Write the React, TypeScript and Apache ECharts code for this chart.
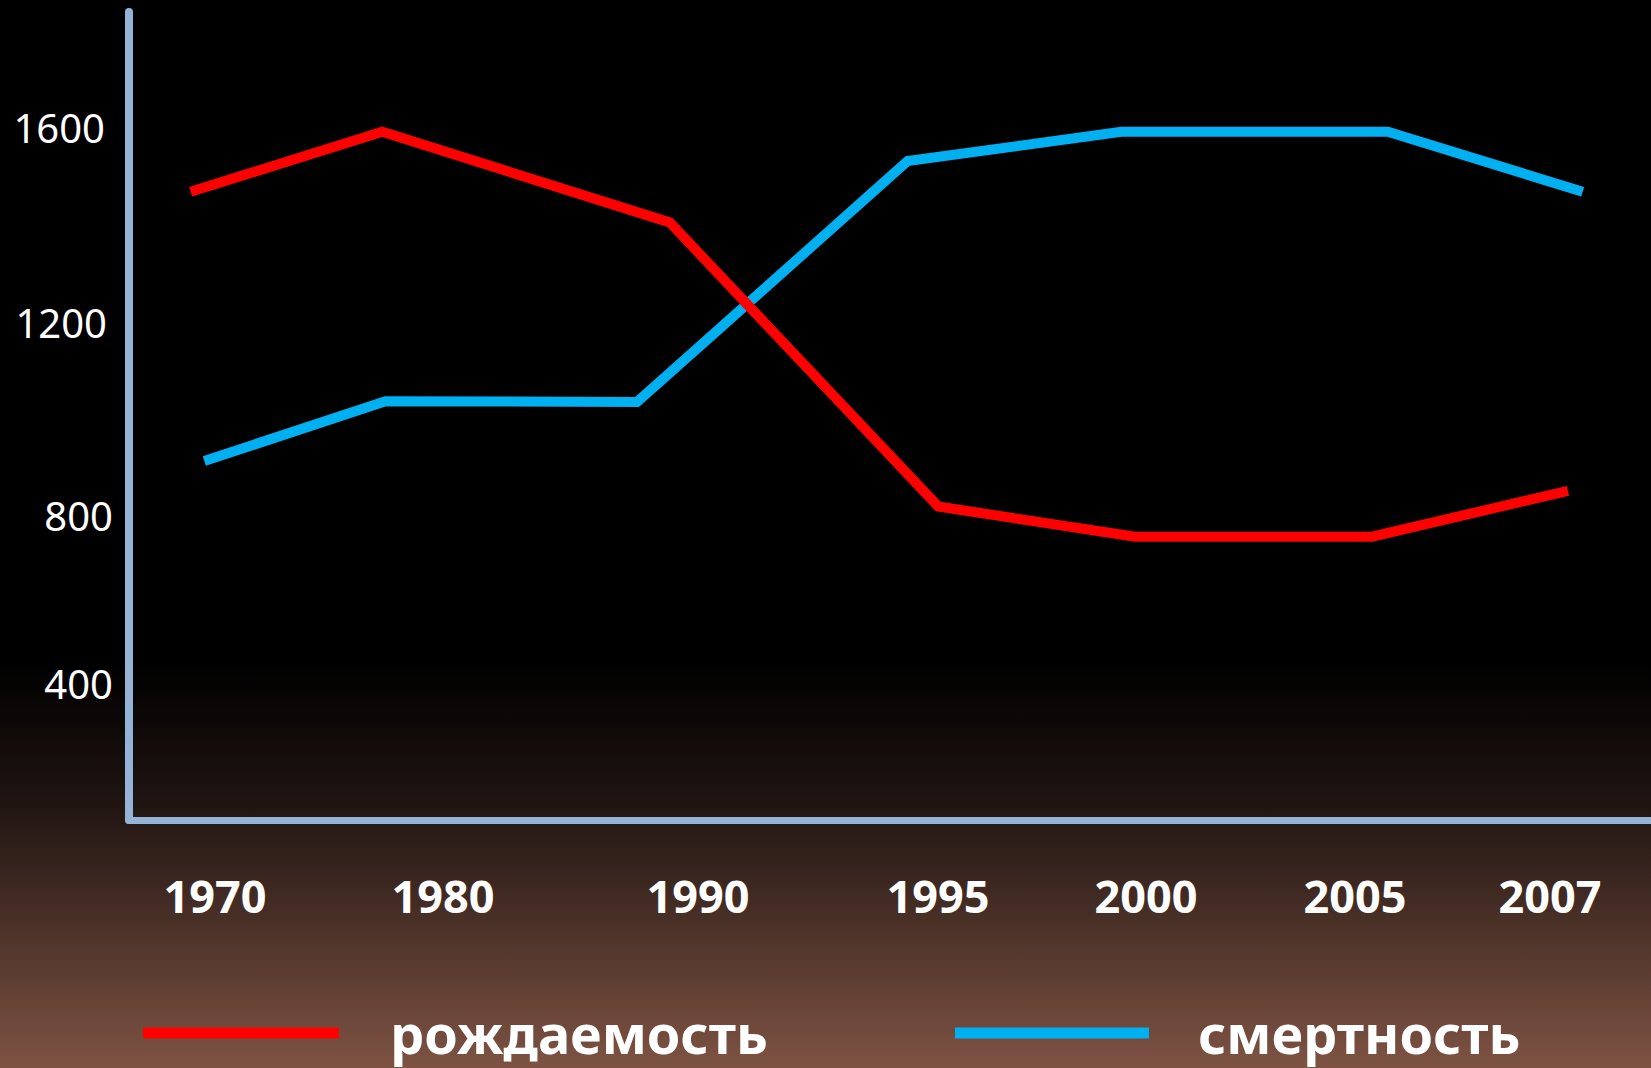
import React, { useEffect, useRef } from "react";
import * as echarts from "echarts";

// Year labels and their positions along the horizontal axis (percent of axis length)
const years = ["1970", "1980", "1990", "1995", "2000", "2005", "2007"];
const yearLabelPos = [5.65, 20.63, 37.39, 53.15, 66.82, 80.55, 93.36];

// Series names
const seriesNames = ["рождаемость", "смертность"];

// Birth rate (red) — positions along axis and values
const birthPos = [4.05, 16.64, 35.53, 53.17, 66.1, 81.67, 94.54];
const birthValues = [1478, 1607, 1412, 800, 735, 735, 834];

// Death rate (blue) — positions along axis and values
const deathPos = [4.95, 16.85, 33.38, 51.16, 65.2, 82.71, 95.51];
const deathValues = [898, 1027, 1025, 1544, 1607, 1607, 1478];

// Y tick labels
const yTicks = [400, 800, 1200, 1600];

const RED = "#ff0000";
const BLUE = "#00b0f0";
const AXIS = "#95b3d7";

export default function App() {
  const ref = useRef<HTMLDivElement>(null);

  useEffect(() => {
    document.body.style.margin = "0";
    if (!ref.current) return;
    const chart = echarts.init(ref.current, null, { renderer: "svg" });

    const birthData = birthPos.map((p, i) => [p, birthValues[i]]);
    const deathData = deathPos.map((p, i) => [p, deathValues[i]]);

    const legendY = 1033;
    const legendItems = [
      { lineX: 143, lineW: 196, textX: 390, color: RED, name: seriesNames[0] },
      { lineX: 955, lineW: 194, textX: 1198, color: BLUE, name: seriesNames[1] },
    ];

    const graphics: any[] = [
      {
        type: "rect",
        z: -10,
        silent: true,
        shape: { x: 0, y: 0, width: 1651, height: 1068 },
        style: {
          fill: new echarts.graphic.LinearGradient(0, 0, 0, 1, [
            { offset: 0, color: "#000000" },
            { offset: 0.62, color: "#000000" },
            { offset: 0.75, color: "#1f1411" },
            { offset: 1, color: "#7e5343" },
          ]),
        },
      },
    ];
    legendItems.forEach((it) => {
      graphics.push({
        type: "rect",
        shape: { x: it.lineX, y: legendY - 5.5, width: it.lineW, height: 11 },
        style: { fill: it.color },
      });
      graphics.push({
        type: "text",
        x: it.textX,
        y: legendY,
        style: {
          text: it.name,
          fill: "#ffffff",
          font: 'bold 54px "Noto Sans"',
          verticalAlign: "middle",
          align: "left",
        },
      });
    });

    // small nudges so the tick texts sit where the slide had them
    const labelStyle = (pad: number[]) => ({
      color: "#ffffff",
      fontFamily: "Noto Sans",
      fontSize: 40,
      padding: pad,
    });

    chart.setOption({
      animation: false,
      grid: { left: 129, right: 0, top: 12, bottom: 248, containLabel: false },
      xAxis: {
        type: "value",
        min: 0,
        max: 100,
        axisLine: { show: true, lineStyle: { color: AXIS, width: 7 } },
        axisTick: { show: false },
        splitLine: { show: false },
        axisLabel: {
          customValues: yearLabelPos,
          margin: 53,
          color: "#ffffff",
          fontFamily: "Noto Sans",
          fontWeight: "bold",
          fontSize: 45,
          formatter: (v: number) => {
            const i = yearLabelPos.findIndex((p) => Math.abs(p - v) < 0.01);
            return i >= 0 ? years[i] : "";
          },
        },
      },
      yAxis: {
        type: "value",
        min: 125,
        max: 1865,
        axisLine: { show: true, lineStyle: { color: AXIS, width: 8 } },
        axisTick: { show: false },
        splitLine: { show: false },
        axisLabel: {
          customValues: yTicks,
          margin: 14,
          formatter: (v: number) => {
            const key = v === 1600 ? "u" : v === 800 ? "d" : v === 400 ? "u2" : "n";
            return "{" + key + "|" + String(v) + "}";
          },
          rich: {
            u: labelStyle([0, 10, 16, 0]),
            d: labelStyle([18, 2, 0, 0]),
            u2: labelStyle([0, 2, 18, 0]),
            n: labelStyle([4, 8, 0, 0]),
          },
        },
      },
      graphic: graphics,
      series: [
        {
          name: seriesNames[0],
          type: "line",
          data: birthData,
          symbol: "none",
          lineStyle: { color: RED, width: 10, cap: "butt", join: "miter" },
          itemStyle: { color: RED },
          z: 3,
        },
        {
          name: seriesNames[1],
          type: "line",
          data: deathData,
          symbol: "none",
          lineStyle: { color: BLUE, width: 10, cap: "butt", join: "miter" },
          itemStyle: { color: BLUE },
          z: 2,
        },
      ],
    });

    return () => chart.dispose();
  }, []);

  return <div ref={ref} style={{ width: 1651, height: 1068 }} />;
}
